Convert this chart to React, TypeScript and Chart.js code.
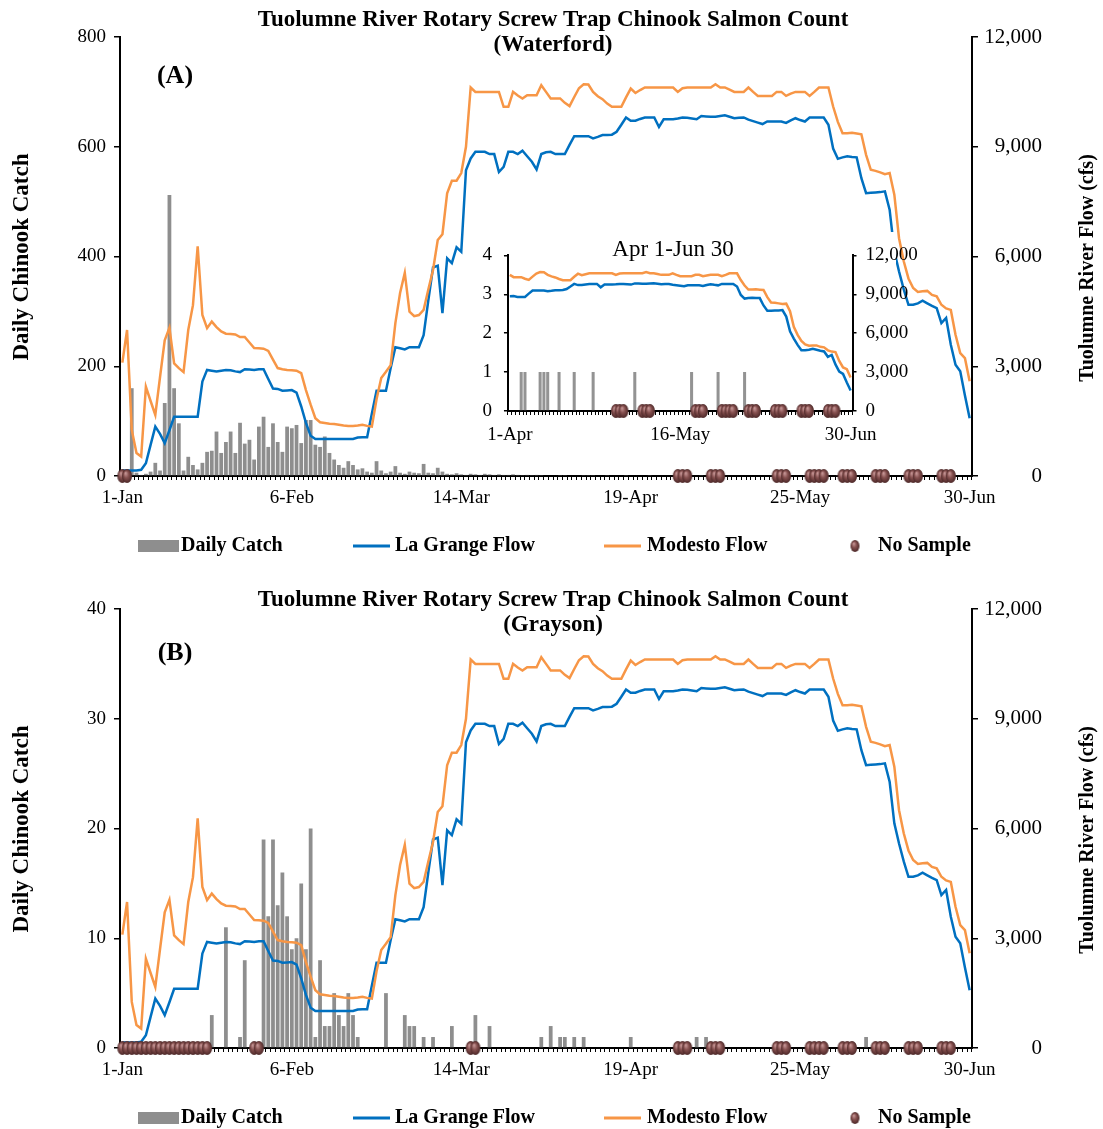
import React, { useEffect, useRef } from 'react';
import { Chart, registerables } from 'chart.js';

Chart.register(...registerables);

const FONT = '"Liberation Serif", "Times New Roman", serif';
const BLUE = '#0070C0';
const ORANGE = '#F79646';
const GREY = '#8e8e8e';

// ---- categories ----
const MONTHS = ['Jan', 'Feb', 'Mar', 'Apr', 'May', 'Jun'];
const MONTH_DAYS = [31, 28, 31, 30, 31, 30];
const DAY_LABELS: string[] = [];
MONTHS.forEach((m, i) => {
  for (let d = 1; d <= MONTH_DAYS[i]; d++) DAY_LABELS.push(`${d}-${m}`);
});
const X_TICK_LABELS = ['1-Jan', '6-Feb', '14-Mar', '19-Apr', '25-May', '30-Jun'];
const INSET_TICK_LABELS = ['1-Apr', '16-May', '30-Jun'];
const INSET_START_LABEL = '1-Apr';

// ---- text ----
const TITLE = 'Tuolumne River Rotary Screw Trap Chinook Salmon Count';
const LEFT_TITLE = 'Daily Chinook Catch';
const RIGHT_TITLE = 'Tuolumne River Flow (cfs)';
const INSET_TITLE = 'Apr 1-Jun 30';
const LEGEND_LABELS = ['Daily Catch', 'La Grange Flow', 'Modesto Flow', 'No Sample'];

// ---- series (daily, 1-Jan .. 30-Jun) ----
const LA_GRANGE_FLOW = [
  150, 150, 150, 150, 170, 350, 850, 1350, 1150, 900,
  1250, 1620, 1620, 1620, 1620, 1620, 1620, 2580, 2900, 2880,
  2860, 2880, 2900, 2890, 2860, 2840, 2920, 2910, 2900, 2920,
  2920, 2650, 2390, 2380, 2330, 2340, 2350, 2280, 1900, 1450,
  1100, 1010, 1010, 1010, 1010, 1010, 1010, 1010, 1010, 1010,
  1050, 1060, 1060, 1700, 2330, 2330, 2330, 2950, 3520, 3490,
  3460, 3520, 3520, 3520, 3850, 4800, 5700, 5750, 4450, 5950,
  5820, 6250, 6130, 8360, 8680, 8860, 8860, 8860, 8800, 8800,
  8310, 8450, 8860, 8860, 8800, 8890, 8740, 8590, 8380, 8800,
  8850, 8860, 8800, 8800, 8800, 9050, 9290, 9290, 9290, 9290,
  9230, 9270, 9320, 9320, 9330, 9410, 9600, 9800, 9710, 9710,
  9760, 9800, 9800, 9800, 9540, 9750, 9750, 9750, 9770, 9800,
  9790, 9770, 9750, 9840, 9830, 9820, 9820, 9840, 9860, 9820,
  9780, 9790, 9800, 9740, 9700, 9660, 9620, 9690, 9690, 9690,
  9690, 9650, 9720, 9780, 9730, 9690, 9800, 9800, 9800, 9800,
  9600, 8950, 8670, 8710, 8740, 8720, 8710, 8140, 7730, 7740,
  7750, 7760, 7780, 7280, 6140, 5590, 5100, 4680, 4680, 4720,
  4790, 4720, 4650, 4590, 4180, 4320, 3590, 3040, 2860, 2200,
  1580,
];

const MODESTO_FLOW = [
  3100, 3990, 1260, 630, 530, 2440, 2050, 1670, 2700, 3710,
  4050, 3080, 2950, 2840, 3990, 4670, 6280, 4400, 4040, 4220,
  4070, 3950, 3890, 3880, 3870, 3800, 3800, 3650, 3500, 3490,
  3480, 3420, 3180, 2950, 2920, 2900, 2890, 2880, 2810, 2350,
  1950, 1580, 1470, 1450, 1430, 1420, 1400, 1380, 1370, 1370,
  1380, 1400, 1370, 1350, 2100, 2680, 2850, 3030, 4180, 5000,
  5550, 4490, 4370, 4400, 4540, 5100, 5630, 6450, 6610, 7730,
  8070, 8070, 8280, 9000, 10620, 10500, 10500, 10500, 10500, 10500,
  10500, 10090, 10090, 10500, 10400, 10320, 10410, 10410, 10410, 10680,
  10500, 10320, 10320, 10320, 10200, 10110, 10360, 10600, 10710, 10700,
  10500, 10380, 10300, 10180, 10090, 10090, 10090, 10350, 10590, 10470,
  10550, 10620, 10620, 10620, 10620, 10620, 10620, 10620, 10500, 10600,
  10620, 10620, 10620, 10620, 10620, 10620, 10710, 10620, 10620, 10560,
  10500, 10500, 10500, 10620, 10500, 10390, 10390, 10390, 10390, 10500,
  10500, 10390, 10450, 10500, 10500, 10500, 10390, 10500, 10620, 10620,
  10620, 10100, 9680, 9370, 9370, 9380, 9360, 9340, 8780, 8370,
  8340, 8300, 8250, 8280, 7690, 6500, 5870, 5400, 5140, 5030,
  5050, 5060, 4950, 4910, 4680, 4580, 4540, 3860, 3360, 3220,
  2590,
];

const WATERFORD_CATCH = [
  0, 0, 160, 6, 2, 4, 8, 24, 10, 133,
  512, 160, 96, 10, 35, 20, 12, 24, 44, 46,
  81, 42, 62, 81, 42, 97, 59, 66, 30, 90,
  108, 53, 96, 62, 44, 90, 87, 93, 60, 102,
  102, 57, 53, 72, 42, 30, 20, 15, 27, 20,
  12, 14, 8, 6, 27, 10, 5, 8, 18, 6,
  4, 8, 6, 5, 22, 6, 5, 15, 8, 4,
  3, 5, 3, 2, 4, 3, 2, 4, 3, 2,
  3, 2, 2, 3, 2, 1, 2, 1, 2, 1,
  0, 0, 0, 1, 1, 0, 0, 0, 1, 1,
  1, 0, 0, 1, 0, 0, 0, 1, 0, 0,
  0, 0, 1, 0, 0, 0, 0, 0, 0, 0,
  0, 0, 0, 1, 0, 0, 0, 0, 0, 0,
  0, 0, 0, 0, 0, 0, 0, 0, 1, 0,
  0, 0, 0, 0, 0, 1, 0, 0, 0, 0,
  0, 0, 1, 0, 0, 0, 0, 0, 0, 0,
  0, 0, 0, 0, 0, 0, 0, 0, 0, 0,
  0, 0, 0, 0, 0, 0, 0, 0, 0, 0,
  0,
];

const GRAYSON_CATCH = [
  0, 0, 0, 0, 0, 0, 0, 0, 0, 0,
  0, 0, 0, 0, 0, 0, 0, 0, 0, 3,
  0, 0, 11, 0, 0, 1, 8, 0, 0, 0,
  19, 12, 19, 13, 16, 12, 9, 10, 15, 9,
  20, 1, 8, 2, 2, 5, 3, 2, 5, 3,
  1, 0, 0, 0, 0, 0, 5, 0, 0, 0,
  3, 2, 2, 0, 1, 0, 1, 0, 0, 0,
  2, 0, 0, 0, 0, 3, 0, 0, 2, 0,
  0, 0, 0, 0, 0, 0, 0, 0, 0, 1,
  0, 2, 0, 1, 1, 0, 1, 0, 1, 0,
  0, 0, 0, 0, 0, 0, 0, 0, 1, 0,
  0, 0, 0, 0, 0, 0, 0, 0, 0, 0,
  0, 0, 1, 0, 1, 0, 0, 0, 0, 0,
  0, 0, 0, 0, 0, 0, 0, 0, 0, 0,
  0, 0, 0, 0, 0, 0, 0, 0, 0, 0,
  0, 0, 0, 0, 0, 0, 0, 0, 1, 0,
  0, 0, 0, 0, 0, 0, 0, 0, 0, 0,
  0, 0, 0, 0, 0, 0, 0, 0, 0, 0,
  0,
];

// day indices (0 = 1-Jan) with no sample
const SPRING_NO_SAMPLE = [
  118, 119, 120, 125, 126, 127, 139, 140, 141, 146, 147, 148, 149,
  153, 154, 155, 160, 161, 162, 167, 168, 169, 174, 175, 176,
];
const WATERFORD_NO_SAMPLE = [0, 1, ...SPRING_NO_SAMPLE];
const GRAYSON_NO_SAMPLE = [
  0, 1, 2, 3, 4, 5, 6, 7, 8, 9, 10, 11, 12, 13, 14, 15, 16, 17, 18,
  28, 29, 74, 75, ...SPRING_NO_SAMPLE,
];

const MAIN_Y_TICKS_A = { max: 800, step: 200 };
const MAIN_Y_TICKS_B = { max: 40, step: 10 };
const FLOW_TICKS = { max: 12000, step: 3000 };
const INSET_Y_TICKS = { max: 4, step: 1 };

function makeBall(rx: number, ry: number): HTMLCanvasElement {
  const c = document.createElement('canvas');
  const w = Math.ceil(rx * 2) + 2;
  const h = Math.ceil(ry * 2) + 2;
  c.width = w;
  c.height = h;
  const g = c.getContext('2d')!;
  g.translate(w / 2, h / 2);
  g.scale(rx / ry, 1);
  const grad = g.createRadialGradient(-ry * 0.3, -ry * 0.4, ry * 0.08, 0, 0, ry);
  grad.addColorStop(0, '#c49494');
  grad.addColorStop(0.45, '#86504f');
  grad.addColorStop(1, '#4c2828');
  g.fillStyle = grad;
  g.beginPath();
  g.arc(0, 0, ry, 0, Math.PI * 2);
  g.fill();
  return c;
}

const fmt = (v: number | string) => Number(v).toLocaleString('en-US');
const tickFont = (size: number) => ({ family: FONT, size });

type Spec = {
  subtitle: string;
  panel: string;
  catchValues: number[];
  noSampleDays: number[];
  yMax: number;
  yStep: number;
  titleY: number;
  panelY: number;
};

function buildMainChart(canvas: HTMLCanvasElement, spec: Spec) {
  const ball = makeBall(5, 7);
  const legendBall = makeBall(4.5, 6);
  const noSample = DAY_LABELS.map((_, i) => (spec.noSampleDays.includes(i) ? 0 : null));

  const deco = {
    id: 'deco',
    afterDraw(chart: any) {
      const ctx = chart.ctx as CanvasRenderingContext2D;
      ctx.save();
      ctx.fillStyle = '#000';
      ctx.textBaseline = 'middle';
      ctx.textAlign = 'center';
      ctx.font = `bold 23px ${FONT}`;
      ctx.fillText(TITLE, 553, spec.titleY);
      ctx.fillText(spec.subtitle, 553, spec.titleY + 25);
      ctx.font = `bold 26px ${FONT}`;
      ctx.fillText(spec.panel, 175, spec.panelY);

      ctx.save();
      ctx.translate(22, 257);
      ctx.rotate(-Math.PI / 2);
      ctx.font = `bold 23px ${FONT}`;
      ctx.fillText(LEFT_TITLE, 0, 0);
      ctx.restore();

      ctx.save();
      ctx.translate(1088, 268);
      ctx.rotate(-Math.PI / 2);
      ctx.font = `bold 20px ${FONT}`;
      ctx.fillText(RIGHT_TITLE, 0, 0);
      ctx.restore();

      // legend
      const ly = 546;
      ctx.textAlign = 'left';
      ctx.font = `bold 20px ${FONT}`;
      ctx.fillStyle = GREY;
      ctx.fillRect(138, ly - 6, 41, 12);
      ctx.fillStyle = '#000';
      ctx.fillText(LEGEND_LABELS[0], 181, ly);
      ctx.lineWidth = 3;
      ctx.strokeStyle = BLUE;
      ctx.beginPath();
      ctx.moveTo(353, ly);
      ctx.lineTo(390, ly);
      ctx.stroke();
      ctx.fillText(LEGEND_LABELS[1], 395, ly);
      ctx.strokeStyle = ORANGE;
      ctx.beginPath();
      ctx.moveTo(604, ly);
      ctx.lineTo(641, ly);
      ctx.stroke();
      ctx.fillText(LEGEND_LABELS[2], 647, ly);
      ctx.drawImage(legendBall, 855 - legendBall.width / 2, ly - legendBall.height / 2);
      ctx.fillText(LEGEND_LABELS[3], 878, ly);
      ctx.restore();
    },
  };

  return new Chart(canvas, {
    type: 'bar',
    data: {
      labels: DAY_LABELS,
      datasets: [
        {
          type: 'line',
          label: LEGEND_LABELS[3],
          data: noSample,
          yAxisID: 'y',
          showLine: false,
          pointStyle: ball,
          pointRadius: 5,
          pointHoverRadius: 5,
          clip: false,
          order: 0,
        } as any,
        {
          type: 'line',
          label: LEGEND_LABELS[2],
          data: MODESTO_FLOW,
          yAxisID: 'y2',
          borderColor: ORANGE,
          borderWidth: 2.5,
          pointRadius: 0,
          tension: 0,
          order: 1,
        },
        {
          type: 'line',
          label: LEGEND_LABELS[1],
          data: LA_GRANGE_FLOW,
          yAxisID: 'y2',
          borderColor: BLUE,
          borderWidth: 2.5,
          pointRadius: 0,
          tension: 0,
          order: 2,
        },
        {
          type: 'bar',
          label: LEGEND_LABELS[0],
          data: spec.catchValues,
          yAxisID: 'y',
          backgroundColor: GREY,
          barPercentage: 0.8,
          categoryPercentage: 1,
          order: 3,
        },
      ],
    },
    options: {
      responsive: false,
      animation: false,
      events: [],
      layout: { padding: { top: 37, right: 61, bottom: 0, left: 0 } },
      plugins: { legend: { display: false }, tooltip: { enabled: false }, title: { display: false } },
      scales: {
        x: {
          type: 'category',
          offset: true,
          grid: { drawOnChartArea: false, drawTicks: true, tickLength: 4, color: '#000', lineWidth: 1 },
          border: { color: '#000', width: 2 },
          ticks: {
            autoSkip: false,
            maxRotation: 0,
            minRotation: 0,
            padding: 7,
            color: '#000',
            font: tickFont(19),
            callback: (_v: any, i: number) => (X_TICK_LABELS.includes(DAY_LABELS[i]) ? DAY_LABELS[i] : ''),
          },
          afterFit: (s: any) => {
            s.height = 81;
          },
        },
        y: {
          position: 'left',
          min: 0,
          max: spec.yMax,
          grid: { drawOnChartArea: false, tickLength: 6, color: '#000', lineWidth: 1.5 },
          border: { color: '#000', width: 2 },
          ticks: { stepSize: spec.yStep, padding: 8, color: '#000', font: tickFont(19) },
          afterFit: (s: any) => {
            s.width = 120;
          },
        },
        y2: {
          position: 'right',
          min: 0,
          max: FLOW_TICKS.max,
          grid: { drawOnChartArea: false, tickLength: 6, color: '#000', lineWidth: 1.5 },
          border: { color: '#000', width: 2 },
          ticks: {
            stepSize: FLOW_TICKS.step,
            crossAlign: 'far',
            padding: 8,
            color: '#000',
            font: tickFont(21),
            callback: (v: any) => fmt(v),
          },
          afterFit: (s: any) => {
            s.width = 70;
          },
        },
      },
    } as any,
    plugins: [deco],
  });
}

function buildInsetChart(canvas: HTMLCanvasElement) {
  const start = DAY_LABELS.indexOf(INSET_START_LABEL);
  const labels = DAY_LABELS.slice(start);
  const ball = makeBall(5, 7);
  const noSample = labels.map((_, i) => (WATERFORD_NO_SAMPLE.includes(i + start) ? 0 : null));

  const deco = {
    id: 'insetDeco',
    beforeDraw(chart: any) {
      const ctx = chart.ctx as CanvasRenderingContext2D;
      ctx.save();
      ctx.fillStyle = '#fff';
      ctx.fillRect(0, 0, 418, 215);
      ctx.restore();
    },
    afterDraw(chart: any) {
      const ctx = chart.ctx as CanvasRenderingContext2D;
      ctx.save();
      ctx.fillStyle = '#000';
      ctx.textAlign = 'center';
      ctx.textBaseline = 'middle';
      ctx.font = `23px ${FONT}`;
      ctx.fillText(INSET_TITLE, 195, 18);
      ctx.restore();
    },
  };

  return new Chart(canvas, {
    type: 'bar',
    data: {
      labels,
      datasets: [
        {
          type: 'line',
          label: LEGEND_LABELS[3],
          data: noSample,
          yAxisID: 'y',
          showLine: false,
          pointStyle: ball,
          pointRadius: 5,
          pointHoverRadius: 5,
          clip: false,
          order: 0,
        } as any,
        {
          type: 'line',
          label: LEGEND_LABELS[2],
          data: MODESTO_FLOW.slice(start),
          yAxisID: 'y2',
          borderColor: ORANGE,
          borderWidth: 2.5,
          pointRadius: 0,
          order: 1,
        },
        {
          type: 'line',
          label: LEGEND_LABELS[1],
          data: LA_GRANGE_FLOW.slice(start),
          yAxisID: 'y2',
          borderColor: BLUE,
          borderWidth: 2.5,
          pointRadius: 0,
          order: 2,
        },
        {
          type: 'bar',
          label: LEGEND_LABELS[0],
          data: WATERFORD_CATCH.slice(start),
          yAxisID: 'y',
          backgroundColor: 'rgba(128,128,128,0.85)',
          barPercentage: 0.8,
          categoryPercentage: 1,
          order: 3,
        },
      ],
    },
    options: {
      responsive: false,
      animation: false,
      events: [],
      layout: { padding: { top: 12, right: 0, bottom: 0, left: 0 } },
      plugins: { legend: { display: false }, tooltip: { enabled: false }, title: { display: false } },
      scales: {
        x: {
          type: 'category',
          offset: true,
          grid: { drawOnChartArea: false, drawTicks: true, tickLength: 4, color: '#000', lineWidth: 1 },
          border: { color: '#000', width: 2 },
          ticks: {
            autoSkip: false,
            maxRotation: 0,
            minRotation: 0,
            padding: 9,
            color: '#000',
            font: tickFont(19),
            callback: (_v: any, i: number) => (INSET_TICK_LABELS.includes(labels[i]) ? labels[i] : ''),
          },
          afterFit: (s: any) => {
            s.height = 36;
          },
        },
        y: {
          position: 'left',
          min: 0,
          max: INSET_Y_TICKS.max,
          grid: { drawOnChartArea: false, tickLength: 4, color: '#000', lineWidth: 1.5 },
          border: { color: '#000', width: 2 },
          ticks: { stepSize: INSET_Y_TICKS.step, padding: 12, color: '#000', font: tickFont(19) },
          afterFit: (s: any) => {
            s.width = 27;
          },
        },
        y2: {
          position: 'right',
          min: 0,
          max: FLOW_TICKS.max,
          grid: { drawOnChartArea: false, tickLength: 4, color: '#000', lineWidth: 1.5 },
          border: { color: '#000', width: 2 },
          ticks: {
            stepSize: FLOW_TICKS.step,
            padding: 9,
            color: '#000',
            font: tickFont(19),
            callback: (v: any) => fmt(v),
          },
          afterFit: (s: any) => {
            s.width = 77.5;
          },
        },
      },
    } as any,
    plugins: [deco],
  });
}

export default function App() {
  const topRef = useRef<HTMLCanvasElement>(null);
  const bottomRef = useRef<HTMLCanvasElement>(null);
  const insetRef = useRef<HTMLCanvasElement>(null);

  useEffect(() => {
    document.body.style.margin = '0';
    const charts = [
      buildMainChart(topRef.current!, {
        subtitle: '(Waterford)',
        panel: '(A)',
        catchValues: WATERFORD_CATCH,
        noSampleDays: WATERFORD_NO_SAMPLE,
        yMax: MAIN_Y_TICKS_A.max,
        yStep: MAIN_Y_TICKS_A.step,
        titleY: 20,
        panelY: 76,
      }),
      buildMainChart(bottomRef.current!, {
        subtitle: '(Grayson)',
        panel: '(B)',
        catchValues: GRAYSON_CATCH,
        noSampleDays: GRAYSON_NO_SAMPLE,
        yMax: MAIN_Y_TICKS_B.max,
        yStep: MAIN_Y_TICKS_B.step,
        titleY: 28,
        panelY: 81,
      }),
      buildInsetChart(insetRef.current!),
    ];
    return () => charts.forEach((c) => c.destroy());
  }, []);

  return (
    <div style={{ position: 'relative', width: 1103, height: 1129, background: '#fff', overflow: 'hidden' }}>
      <canvas
        ref={topRef}
        width={1103}
        height={557}
        style={{ position: 'absolute', left: 0, top: 0, width: 1103, height: 557 }}
      />
      <canvas
        ref={bottomRef}
        width={1103}
        height={557}
        style={{ position: 'absolute', left: 0, top: 572, width: 1103, height: 557 }}
      />
      <canvas
        ref={insetRef}
        width={452}
        height={215}
        style={{ position: 'absolute', left: 478, top: 232, width: 452, height: 215 }}
      />
    </div>
  );
}
